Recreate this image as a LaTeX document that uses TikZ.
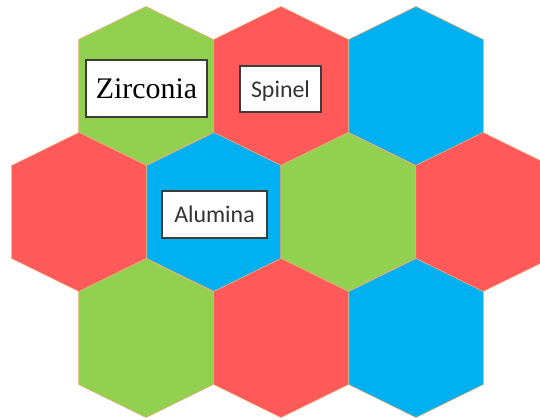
\documentclass[tikz,border=0pt]{standalone}
\usepackage{fontspec}
\setmainfont{Liberation Serif}
\newfontfamily\calfont{Carlito}
\definecolor{hexgreen}{RGB}{146,208,80}
\definecolor{hexred}{RGB}{255,89,89}
\definecolor{hexblue}{RGB}{0,176,240}
\definecolor{hexedge}{RGB}{237,170,120}
\definecolor{tagedge}{RGB}{60,60,60}

\begin{document}
\begin{tikzpicture}[x=1bp, y=-1bp,
    cell/.style={draw=hexedge, line width=0.6bp},
    tag/.style={rectangle, fill=white, draw=tagedge, line width=1.5bp,
                inner sep=0pt, text depth=0pt, align=center}]

  \useasboundingbox (0,0) rectangle (540,419);
  \clip (0,0) rectangle (540,419);

  %% Hex cells: centre x / centre y / colour
  \foreach \cx/\cy/\col in {146/86/hexgreen, 281/86/hexred, 416/86/hexblue,
      79/212/hexred, 214/212/hexblue, 348/212/hexgreen, 483/212/hexred,
      146/338/hexgreen, 281/338/hexred, 416/338/hexblue}
    \path[cell, fill=\col] (\cx,\cy-79.5) -- ++(67.3,33) -- ++(0,93)
      -- ++(-67.3,33) -- ++(-67.3,-33) -- ++(0,-93) -- cycle;

  %% Labels
  \node[tag, line width=2bp, minimum width=121bp, minimum height=57bp,
        font=\fontsize{30}{36}\selectfont] (zirconia) at (146.5,88.5) {Zirconia};
  \node[tag, minimum width=81bp, minimum height=46bp, text=black!80,
        font=\calfont\fontsize{24}{28}\selectfont] (spinel) at (280.5,89) {Spinel};
  \node[tag, minimum width=105bp, minimum height=47bp, text=black!80,
        font=\calfont\fontsize{24}{28}\selectfont] (alumina) at (214.5,214.5) {Alumina};
\end{tikzpicture}
\end{document}
